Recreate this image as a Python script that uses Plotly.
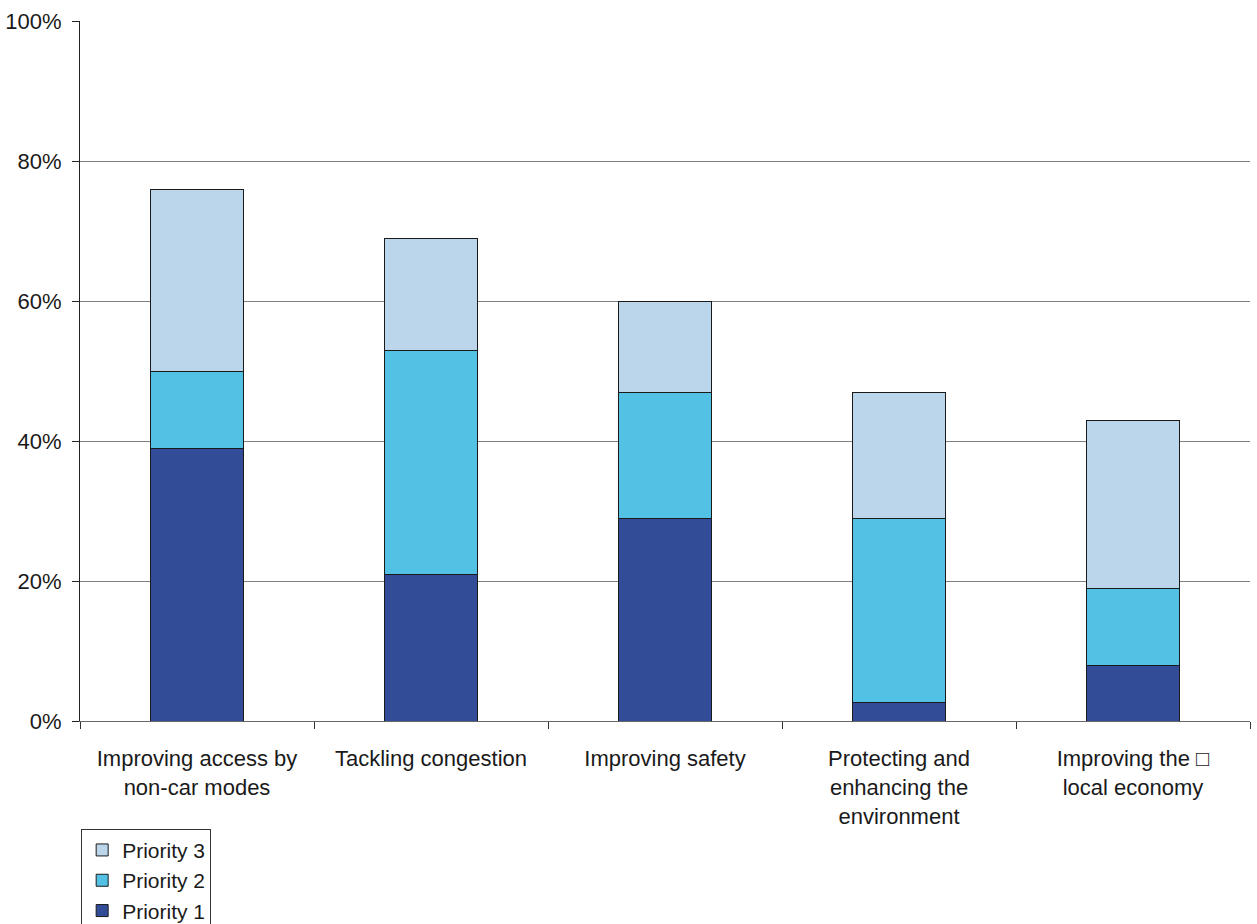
import plotly.graph_objects as go

categories = [
    "Improving access by<br>non-car modes",
    "Tackling congestion",
    "Improving safety",
    "Protecting and<br>enhancing the<br>environment",
    "Improving the \u25a1<br>local economy",
]
priority_1 = [39, 21, 29, 2.7, 8]
priority_2 = [11, 32, 18, 26.3, 11]
priority_3 = [26, 16, 13, 18, 24]

series = [
    ("Priority 1", priority_1, "#324C97"),
    ("Priority 2", priority_2, "#53C1E4"),
    ("Priority 3", priority_3, "#BBD5EB"),
]

fig = go.Figure()
for name, vals, color in series:
    fig.add_trace(go.Bar(
        x=categories,
        y=vals,
        name=name,
        legendgroup=name,
        marker=dict(color=color, line=dict(color="#1a1a1a", width=1)),
    ))

fig.update_layout(
    width=1257,
    height=924,
    barmode="stack",
    bargap=0.6,
    plot_bgcolor="white",
    paper_bgcolor="white",
    margin=dict(l=80, r=7, t=21, b=203, autoexpand=False),
    font=dict(family="Liberation Sans, Arial, sans-serif", size=22, color="#1a1a1a"),
    showlegend=True,
    legend=dict(
        x=0.001, y=-0.154, xanchor="left", yanchor="top",
        traceorder="reversed",
        bordercolor="#333333", borderwidth=1,
        font=dict(size=21),
        tracegroupgap=5,
        itemwidth=30,
    ),
    xaxis=dict(
        showline=True, linecolor="#666666", linewidth=1,
        ticks="outside", tickson="boundaries", ticklen=7, tickcolor="#333333",
        ticklabelstandoff=18,
        showgrid=False,
        tickfont=dict(size=22),
    ),
    yaxis=dict(
        range=[0, 100],
        tickvals=[0, 20, 40, 60, 80, 100],
        ticktext=["0%", "20%", "40%", "60%", "80%", "100%"],
        showline=True, linecolor="#222222", linewidth=1,
        ticks="outside", ticklen=7, tickcolor="#222222",
        ticklabelstandoff=6,
        showgrid=True, gridcolor="#808080", gridwidth=1,
        zeroline=False,
        tickfont=dict(size=22),
    ),
)

fig.write_html("out.html")
